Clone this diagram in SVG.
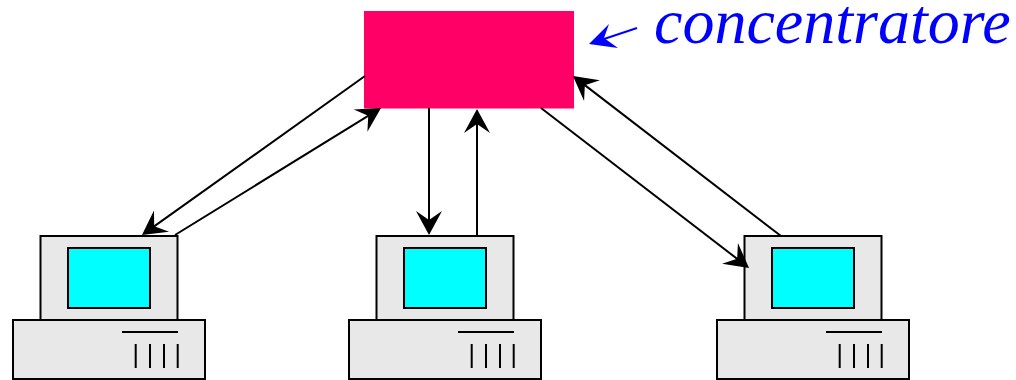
<svg xmlns="http://www.w3.org/2000/svg" width="1016" height="380" viewBox="0 0 1016 380">
<style>
.case{fill:#e8e8e8;stroke:#000;stroke-width:2}
.screen{fill:#00ffff;stroke:#000;stroke-width:2}
.det{fill:none;stroke:#000;stroke-width:2}
.conn{fill:none;stroke:#000;stroke-width:2;marker-end:url(#head)}
</style>
<defs>
<marker id="head" markerUnits="userSpaceOnUse" orient="auto" overflow="visible" markerWidth="40" markerHeight="30" refX="0" refY="0" viewBox="-30 -15 40 30">
<path d="M8,0L-16,-13L-7,0L-16,13Z" fill="#000"/>
</marker>
<g id="pc">
<rect class="case" x="40.500" y="236" width="137" height="84"/>
<rect class="screen" x="68" y="248" width="82" height="60"/>
<rect class="case" x="13" y="320" width="192" height="59"/>
<path class="det" d="M122,332H178M135.700,344V368M150,344V368M164,344V368M177.700,344V368"/>
</g>
</defs>
<rect width="1016" height="380" fill="#fff"/>
<g id="computer-1"><use href="#pc"/></g>
<g id="computer-2"><use href="#pc" x="336"/></g>
<g id="computer-3"><use href="#pc" x="704"/></g>
<g id="concentratore"><rect x="364" y="11" width="210" height="97.500" fill="#ff0066"/></g>
<g id="connectors">
<path class="conn" d="M365,76L148.500,230.400"/>
<path class="conn" d="M175,235L374.200,112.200"/>
<path class="conn" d="M429,108V227"/>
<path class="conn" d="M477,236V117"/>
<path class="conn" d="M541,108L742.700,263.100"/>
<path class="conn" d="M781,236L579.300,80.900"/>
</g>
<g id="label">
<path d="M637,28L604,39" fill="none" stroke="#0000ff" stroke-width="2"/>
<path d="M589,44L609,24L604,38L618,48Z" fill="#0000ff"/>
<text x="654" y="43" font-family="'Liberation Serif',serif" font-style="italic" font-size="64" fill="#0000ff">concentratore</text>
</g>
</svg>
